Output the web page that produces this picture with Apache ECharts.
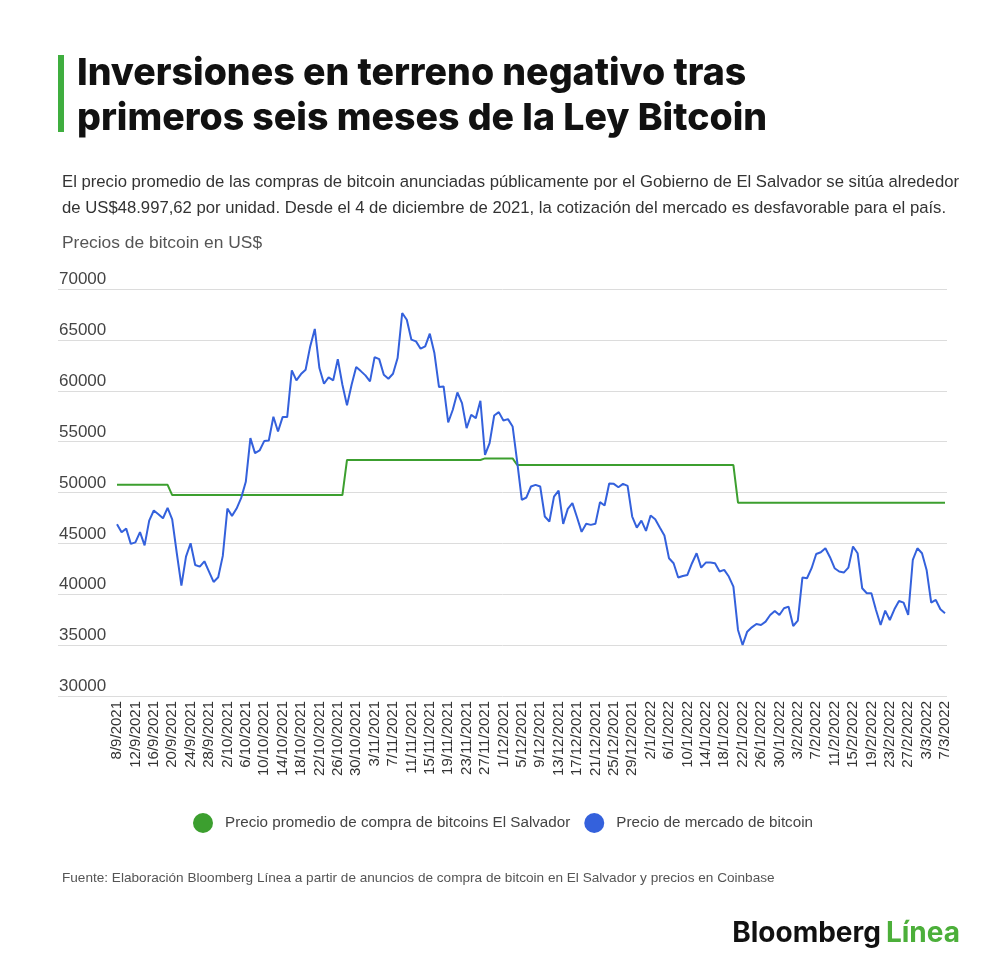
<!DOCTYPE html>
<html>
<head>
<meta charset="utf-8">
<script src="https://cdn.jsdelivr.net/npm/echarts@6/dist/echarts.min.js"></script>
<style>
  html, body { margin: 0; padding: 0; background: #fff; }
  #chart { width: 1000px; height: 972px; }
</style>
</head>
<body>
<div id="chart"></div>
<script>
// fechas: un punto por día, del 8/9/2021 al 7/3/2022
const startDate = [2021, 8, 8] // año, mes (0-11), día
const dayCount = 181

// precio de mercado de bitcoin (US$)
const marketPrice = [
  46880, 46100, 46450, 44950, 45100, 46100, 44800, 47240, 48230, 47870,
  47470, 48490, 47370, 44030, 40850, 43700, 45010, 42880, 42720, 43240,
  42230, 41210, 41670, 43770, 48420, 47700, 48420, 49470, 51050, 55340,
  53870, 54130, 55050, 55110, 57440, 56000, 57410, 57410, 62000, 61020,
  61640, 62070, 64360, 66070, 62230, 60690, 61310, 61020, 63110, 60590,
  58560, 60590, 62330, 61930, 61510, 60920, 63310, 63110, 61570, 61180,
  61670, 63210, 67640, 66980, 65020, 64850, 64130, 64360, 65610, 63700,
  60360, 60420, 56880, 58130, 59830, 58790, 56330, 57640, 57310, 59020,
  53700, 54850, 57570, 57900, 57080, 57210, 56490, 53000, 49280, 49510,
  50590, 50750, 50590, 47640, 47150, 49600, 50190, 46920, 48390, 48950,
  47570, 46130, 46920, 46820, 46920, 49050, 48720, 50880, 50850, 50520,
  50850, 50650, 47640, 46550, 47240, 46230, 47740, 47370, 46550, 45770,
  43540, 43050, 41640, 41800, 41900, 43050, 44030, 42620, 43110, 43110,
  43050, 42230, 42390, 41740, 40750, 36490, 35010, 36320, 36750, 37080,
  36980, 37310, 37960, 38360, 37960, 38620, 38780, 36880, 37410, 41640,
  41570, 42560, 43960, 44130, 44520, 43640, 42560, 42230, 42130, 42620,
  44690, 44030, 40590, 40100, 40100, 38460, 36980, 38390, 37470, 38520,
  39340, 39180, 37960, 43370, 44520, 44030, 42390, 39180, 39440, 38520,
  38130
]

// precio promedio de compra (índice del día, valor) en los cambios
const avgPrice = [
  [0, 50750], [11, 50750], [12, 49750], [49, 49750], [50, 53200],
  [79, 53200], [80, 53350], [86, 53350], [87, 52700], [134, 52700],
  [135, 49000], [180, 49000]
]

const yTicks = [30000, 35000, 40000, 45000, 50000, 55000, 60000, 65000, 70000]

const seriesNames = ['Precio promedio de compra de bitcoins El Salvador', 'Precio de mercado de bitcoin']

const titleText = 'Inversiones en terreno negativo tras\nprimeros seis meses de la Ley Bitcoin'
const subText = 'El precio promedio de las compras de bitcoin anunciadas públicamente por el Gobierno de El Salvador se sitúa alrededor\nde US$48.997,62 por unidad. Desde el 4 de diciembre de 2021, la cotización del mercado es desfavorable para el país.'
const unitText = 'Precios de bitcoin en US$'
const sourceText = 'Fuente: Elaboración Bloomberg Línea a partir de anuncios de compra de bitcoin en El Salvador y precios en Coinbase'

const GREEN = '#3c9f2f'
const BLUE = '#3461dc'
const FONT = '"Liberation Sans", Arial, sans-serif'
const HEAVY = 'Inter, "Liberation Sans", sans-serif'

// etiquetas de fecha d/m/aaaa
const dates = []
for (let i = 0; i < dayCount; i++) {
  const d = new Date(startDate[0], startDate[1], startDate[2] + i)
  dates.push(`${d.getDate()}/${d.getMonth() + 1}/${d.getFullYear()}`)
}

const chart = echarts.init(document.getElementById('chart'), null, { renderer: 'canvas' })

const yBase = {
  min: yTicks[0],
  max: yTicks[yTicks.length - 1],
  interval: 5000,
  axisLine: { show: false },
  axisTick: { show: false }
}

chart.setOption({
  backgroundColor: '#fff',
  animation: false,
  textStyle: { fontFamily: FONT },
  title: [
    {
      text: titleText,
      left: 77, top: 51, padding: 0,
      textStyle: { fontFamily: HEAVY, fontSize: 37.5, fontWeight: 800, color: '#111', lineHeight: 45 }
    },
    {
      text: subText,
      left: 62, top: 169, padding: 0,
      textStyle: { fontSize: 16.7, fontWeight: 'normal', color: '#333', lineHeight: 26 }
    },
    {
      text: unitText,
      left: 62, top: 235, padding: 0,
      textStyle: { fontSize: 17.4, fontWeight: 'normal', color: '#555' }
    },
    {
      text: sourceText,
      left: 62, top: 871, padding: 0,
      textStyle: { fontSize: 13.6, fontWeight: 'normal', color: '#555' }
    },
    {
      text: '{a|Bloomberg} {b|Línea}',
      right: 40, top: 920, padding: 0,
      textStyle: {
        rich: {
          a: { fontFamily: HEAVY, fontSize: 28, fontWeight: 'bold', color: '#111' },
          b: { fontFamily: HEAVY, fontSize: 28, fontWeight: 'bold', color: '#4caf3a' }
        }
      }
    }
  ],
  graphic: [
    { type: 'rect', shape: { x: 58, y: 55, width: 6, height: 77 }, style: { fill: '#3fae3f' } }
  ],
  legend: {
    data: seriesNames,
    left: 193, top: 813, padding: 0,
    icon: 'circle',
    itemWidth: 20, itemHeight: 20,
    itemGap: 14,
    textStyle: { fontSize: 15.2, color: '#444', padding: [0, 0, 0, 7] }
  },
  grid: [
    { left: 117, right: 55, top: 289, bottom: 276 },
    { left: 58, right: 53, top: 289, bottom: 276 }
  ],
  xAxis: [
    {
      type: 'category',
      gridIndex: 0,
      data: dates,
      boundaryGap: false,
      axisLine: { show: false },
      axisTick: { show: false },
      axisLabel: { interval: 3, rotate: 90, margin: 5, fontSize: 15, color: '#333' }
    },
    { type: 'value', gridIndex: 1, show: false, min: 0, max: 1 }
  ],
  yAxis: [
    Object.assign({ type: 'value', gridIndex: 0, axisLabel: { show: false }, splitLine: { show: false } }, yBase),
    Object.assign({
      type: 'value',
      gridIndex: 1,
      axisLabel: {
        inside: true, margin: 1, verticalAlign: 'bottom', padding: [0, 0, 1, 0],
        fontSize: 17, color: '#444',
        formatter: v => String(v)
      },
      splitLine: { lineStyle: { color: '#dcdcdc', width: 1 } }
    }, yBase)
  ],
  series: [
    {
      name: seriesNames[0],
      type: 'line',
      xAxisIndex: 0, yAxisIndex: 0,
      data: avgPrice,
      showSymbol: false,
      itemStyle: { color: GREEN },
      lineStyle: { color: GREEN, width: 2 },
      z: 3
    },
    {
      name: seriesNames[1],
      type: 'line',
      xAxisIndex: 0, yAxisIndex: 0,
      data: marketPrice,
      showSymbol: false,
      itemStyle: { color: BLUE },
      lineStyle: { color: BLUE, width: 2 },
      z: 4
    }
  ]
})
</script>
</body>
</html>
